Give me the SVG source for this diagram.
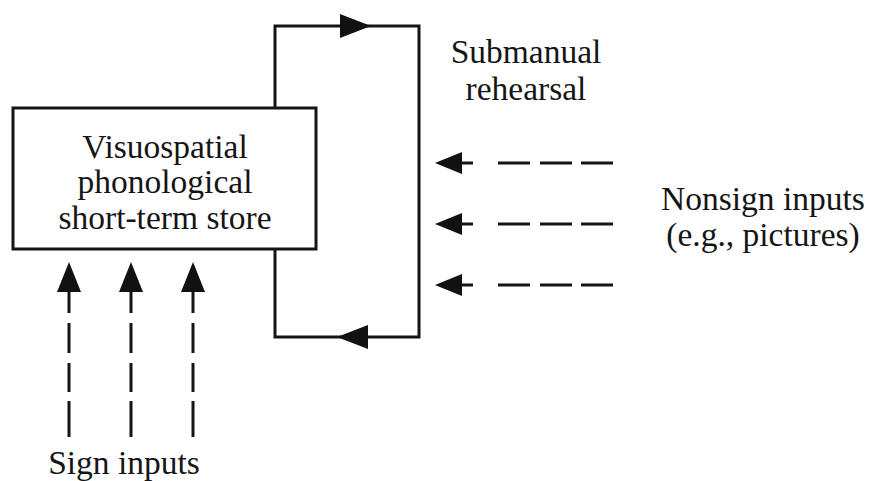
<svg xmlns="http://www.w3.org/2000/svg" width="882" height="481" viewBox="0 0 882 481">
<style>
.t{font-family:"Liberation Serif","Times New Roman",serif;font-size:33.5px;fill:#151515;text-anchor:middle}
.ln{fill:none;stroke:#151515;stroke-width:3}
.ds{fill:none;stroke:#151515;stroke-width:3}
.hd{fill:#111}
</style>
<rect width="882" height="481" fill="#fff"/>
<g id="store">
<rect x="13" y="108" width="303" height="141" class="ln"/>
<text class="t" x="165" y="158">Visuospatial</text>
<text class="t" x="165" y="193">phonological</text>
<text class="t" x="165" y="229">short-term store</text>
</g>
<g id="rehearsal-label">
<text class="t" x="526" y="63">Submanual</text>
<text class="t" x="526" y="100">rehearsal</text>
</g>
<g id="nonsign-label">
<text class="t" x="763" y="210">Nonsign inputs</text>
<text class="t" x="763" y="246">(e.g., pictures)</text>
</g>
<g id="sign-label">
<text class="t" x="124" y="474">Sign inputs</text>
</g>
<g id="connectors">
<polyline class="ln" points="275,108 275,26 419,26 419,337 275,337 275,249"/>
<polygon class="hd" points="340,14 371,26 340,38"/>
<polygon class="hd" points="368,325 337,337 368,349"/>
<g id="nonsign-arrows">
<path class="ds" d="M460 163H473M498 163H530M540 163H572M581 163H613"/>
<polygon class="hd" points="435,163 462,152 462,174"/>
<path class="ds" d="M460 224H473M498 224H530M540 224H572M581 224H613"/>
<polygon class="hd" points="435,224 462,213 462,235"/>
<path class="ds" d="M460 285H473M498 285H530M540 285H572M581 285H613"/>
<polygon class="hd" points="435,285 462,274 462,296"/>
</g>
<g id="sign-arrows">
<path class="ds" d="M69 290V313M69 323V353M69 363V392M69 401V437"/>
<polygon class="hd" points="69,262 57,292 81,292"/>
<path class="ds" d="M131 290V313M131 323V353M131 363V392M131 401V437"/>
<polygon class="hd" points="131,262 119,292 143,292"/>
<path class="ds" d="M193 290V313M193 323V353M193 363V392M193 401V437"/>
<polygon class="hd" points="193,262 181,292 205,292"/>
</g>
</g>
</svg>
